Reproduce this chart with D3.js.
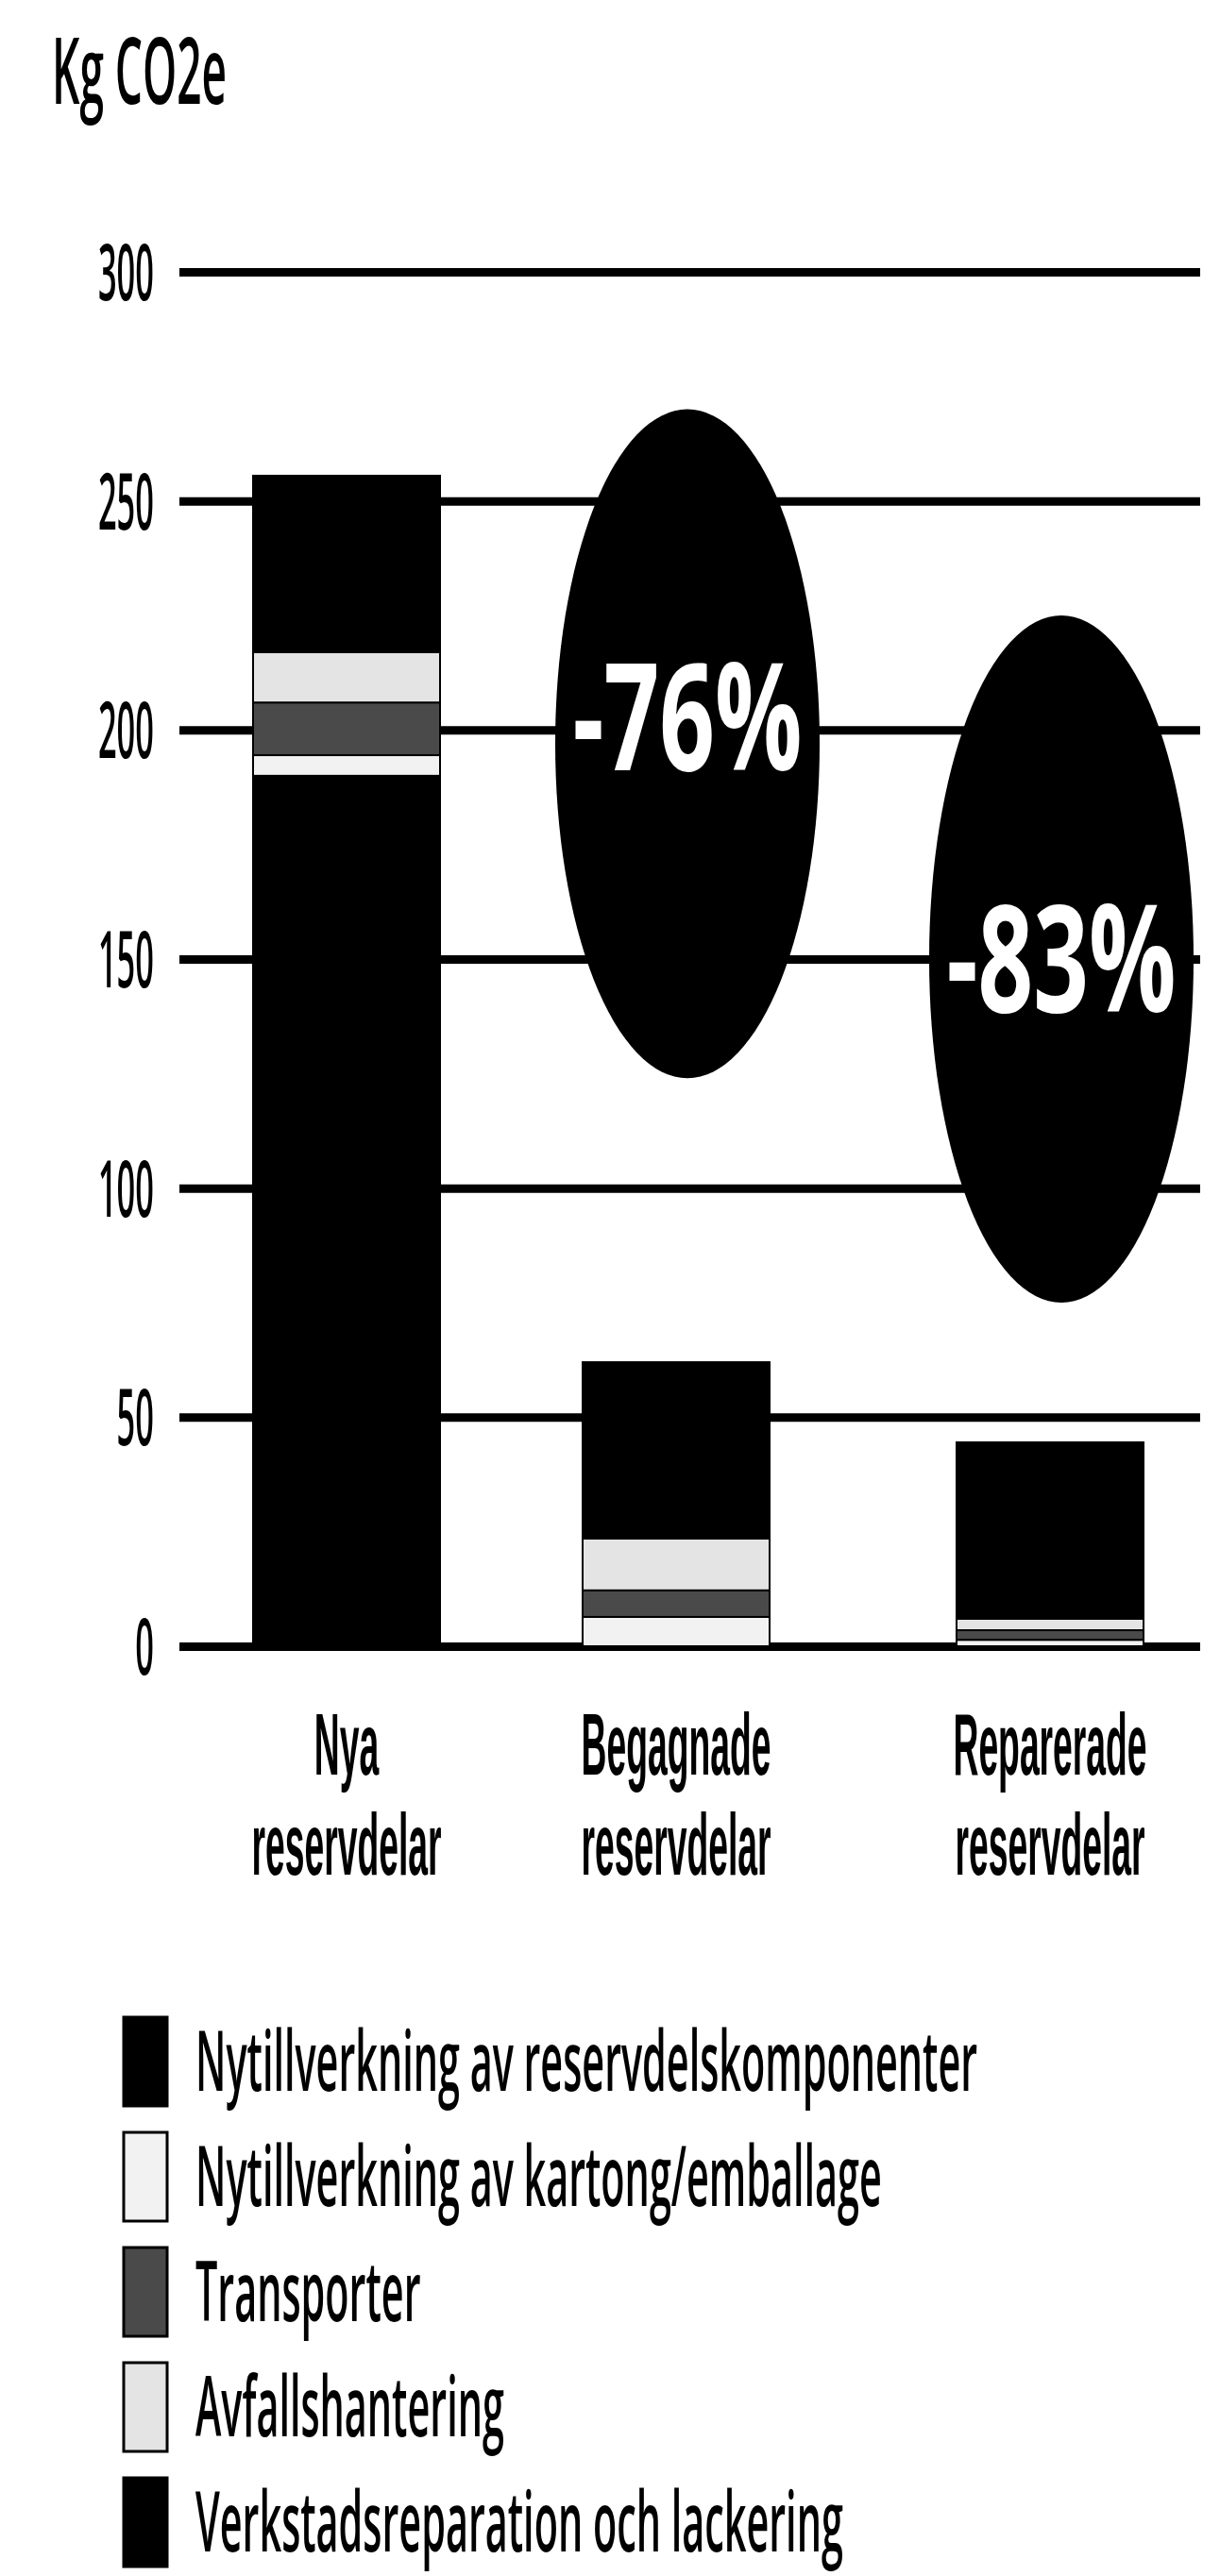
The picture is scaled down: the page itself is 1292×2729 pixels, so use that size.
<!DOCTYPE html>
<html><head><meta charset="utf-8">
<script src="https://cdn.jsdelivr.net/npm/d3@7"></script>
<style>body{margin:0;background:#fff} svg{display:block}</style>
</head><body><svg id="c" width="1292" height="2729"></svg>
<script>
// ---- data ----
const categories = ["Nya reservdelar", "Begagnade reservdelar", "Reparerade reservdelar"];
const seriesNames = ["Nytillverkning av reservdelskomponenter", "Nytillverkning av kartong/emballage", "Transporter", "Avfallshantering", "Verkstadsreparation och lackering"];
const komponenter = [190, 0, 0];
const kartong = [4.5, 6.4, 1.4];
const transporter = [11.5, 5.8, 2.1];
const avfall = [11, 11.3, 2.5];
const verkstad = [38.5, 38.5, 38.5];
const yTicks = [0, 50, 100, 150, 200, 250, 300];
const reductionLabels = ["-76%", "-83%"];
const reductionTargets = ["Begagnade reservdelar", "Reparerade reservdelar"];
const yTitle = "Kg CO2e";

// ---- layout ----
const FONT = "'Open Sans', 'Noto Sans', sans-serif";
const FONT2 = "'Liberation Sans', Arial, sans-serif";
const colors = ["#000000", "#f2f2f2", "#4a4a4a", "#e4e4e4", "#000000"];
const svg = d3.select("#c");
const gridX0 = 190, gridX1 = 1271;
const BW = 198;

const y = d3.scaleLinear().domain([0, 300]).range([1744, 288]);
const x = d3.scaleOrdinal().domain(categories).range([268, 617, 1013]);
const color = d3.scaleOrdinal().domain(seriesNames).range(colors);

const seriesData = [komponenter, kartong, transporter, avfall, verkstad];
const table = categories.map((c, i) => {
  const row = {cat: c};
  seriesNames.forEach((s, k) => row[s] = seriesData[k][i]);
  return row;
});
const stacked = d3.stack().keys(seriesNames)(table);

// tall, narrow lettering: small font stretched vertically
function tText(sel, px, py, str, size, weight, anchor, fill, sx, fam) {
  return sel.append("text")
    .attr("transform", `translate(${px},${py}) scale(1,${(1 / sx).toFixed(4)})`)
    .attr("text-anchor", anchor)
    .style("font-family", fam || FONT).style("font-size", (size * sx).toFixed(2) + "px").style("font-weight", weight)
    .attr("fill", fill).text(str);
}

// gridlines
const axis = d3.axisLeft(y).tickValues(yTicks).tickSize(-(gridX1 - gridX0)).tickFormat("");
const ag = svg.append("g").attr("transform", `translate(${gridX0},0)`).call(axis);
ag.select(".domain").remove();
ag.selectAll(".tick line").attr("stroke", "#000").attr("stroke-width", 9);
ag.selectAll(".tick text").remove();
// y tick labels
const tg = svg.append("g");
yTicks.forEach(v => tText(tg, 163, y(v) + 30, d3.format("d")(v), 84, 600, "end", "#000", 0.41));

// bars
svg.append("g").selectAll("g").data(stacked).join("g")
  .attr("fill", d => color(d.key))
  .selectAll("rect").data(d => d).join("rect")
  .attr("x", d => x(d.data.cat))
  .attr("width", BW)
  .attr("y", d => y(d[1]))
  .attr("height", d => y(d[0]) - y(d[1]))
  .attr("stroke", "#000").attr("stroke-width", d => (d[1] - d[0]) > 0 ? 2 : 0);

// reduction ellipses
const ellipseCenters = [197, 150];
const ellipseHalf = [73, 75];
const textShift = [-28, 0];
const eg = svg.append("g");
reductionLabels.forEach((lab, i) => {
  const cx = x(reductionTargets[i]) + BW / 2 + 12;
  const cy = y(ellipseCenters[i]);
  const ry = y(ellipseCenters[i] - ellipseHalf[i]) - cy;
  eg.append("ellipse").attr("cx", cx).attr("cy", cy).attr("rx", 140).attr("ry", ry).attr("fill", "#000");
  tText(eg, cx, cy + 56 + textShift[i], lab, 158, 700, "middle", "#fff", 0.65);
});

// y title
tText(svg, 55, 110, yTitle, 98, 600, "start", "#000", 0.47);

// category labels
const cg = svg.append("g");
categories.forEach(c => {
  const cx = x(c) + BW / 2;
  const parts = c.split(" ");
  tText(cg, cx, 1880, parts[0], 92, 700, "middle", "#000", 0.405, FONT2);
  tText(cg, cx, 1986, parts[1], 92, 700, "middle", "#000", 0.405, FONT2);
});

// legend
const lg = svg.append("g");
seriesNames.forEach((s, i) => {
  const top = 2137 + i * 122;
  lg.append("rect").attr("x", 131).attr("y", top).attr("width", 46).attr("height", 94)
    .attr("fill", color(s)).attr("stroke", "#000").attr("stroke-width", 3);
  tText(lg, 207, top + 78, s, 88, 600, "start", "#000", 0.47);
});
</script></body></html>
